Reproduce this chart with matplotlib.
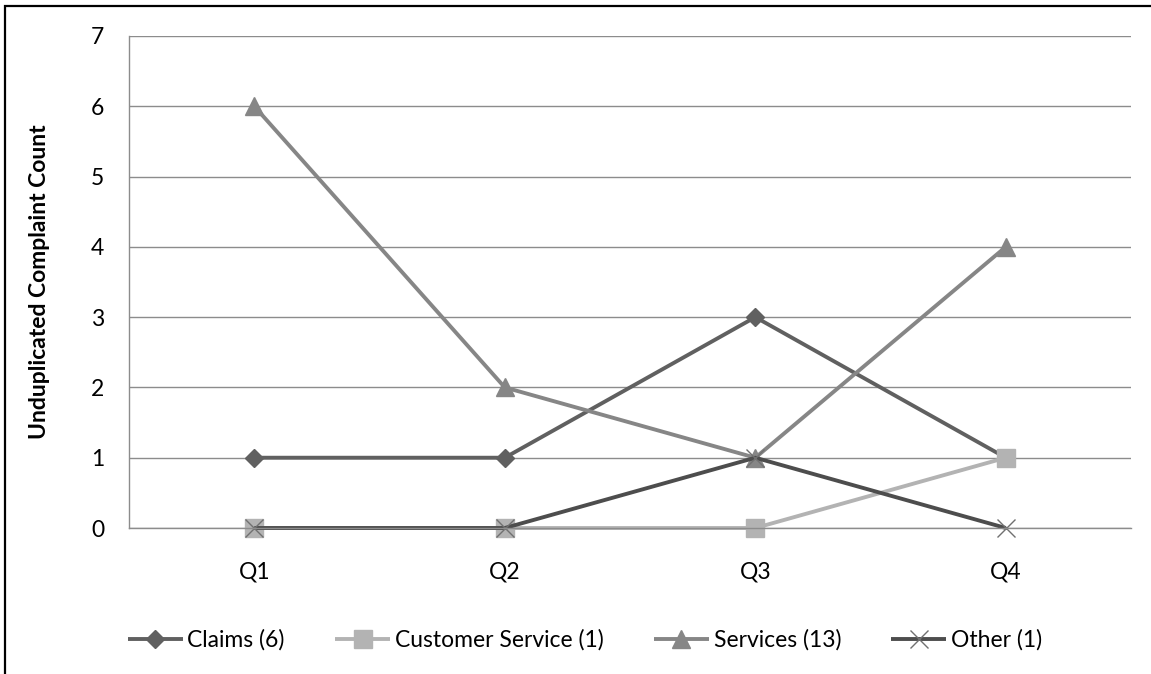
import matplotlib
matplotlib.use("Agg")
import matplotlib.pyplot as plt
from matplotlib.patches import Rectangle

plt.rcParams['font.family'] = ['Lato', 'DejaVu Sans']

quarters = ["Q1", "Q2", "Q3", "Q4"]
claims = [1, 1, 3, 1]
customer_service = [0, 0, 0, 1]
services = [6, 2, 1, 4]
other = [0, 0, 1, 0]

series = [
    ("Claims (6)", claims, "#606060", "D", 9.5),
    ("Customer Service (1)", customer_service, "#b3b3b3", "s", 13),
    ("Services (13)", services, "#868686", "^", 13.5),
    ("Other (1)", other, "#4d4d4d", "x", 13),
]

fig = plt.figure(figsize=(11.51, 6.74), dpi=100)
ax = fig.add_axes([0.1121, 0.2166, 0.8706, 0.730])

x = range(len(quarters))
for label, values, color, marker, ms in series:
    if marker == "x":
        ax.plot(x, values, color=color, lw=2.8, marker=marker, ms=ms,
                mew=1.0, mec="#707070", label=label, solid_capstyle="butt",
                clip_on=False)
    else:
        ax.plot(x, values, color=color, lw=2.8, marker=marker, ms=ms,
                mec=color, label=label, solid_capstyle="butt", clip_on=False)

ax.set_xlim(-0.5, 3.5)
ax.set_ylim(0, 7)
ax.set_xticks(list(x))
ax.set_xticklabels(quarters)
ax.set_yticks(range(8))
ax.tick_params(length=0, labelsize=16.5)
ax.tick_params(axis="x", pad=24)
ax.tick_params(axis="y", pad=18)
ax.yaxis.grid(True, color="#8c8c8c", lw=1)
ax.set_axisbelow(True)
for side in ("top", "right"):
    ax.spines[side].set_visible(False)
for side in ("left", "bottom"):
    ax.spines[side].set_color("#8c8c8c")
    ax.spines[side].set_linewidth(1)

ax.set_ylabel("Unduplicated Complaint Count", fontsize=16.5, fontweight="bold")
ax.yaxis.set_label_coords(-0.079, 0.5)

fig.legend(loc="center", bbox_to_anchor=(585 / 1151, 1 - 640 / 674), ncol=4,
           frameon=False, fontsize=16.5, handlelength=2.4, handletextpad=0.2,
           columnspacing=2.2)

# outer chart frame (right and bottom edges fall outside the image)
fig.patches.append(Rectangle((5 / 1151, -0.1), 1.2, 1.1 - 6 / 674,
                             transform=fig.transFigure, fill=False,
                             edgecolor="black", lw=1.6))

fig.savefig("out.png", dpi=100)
